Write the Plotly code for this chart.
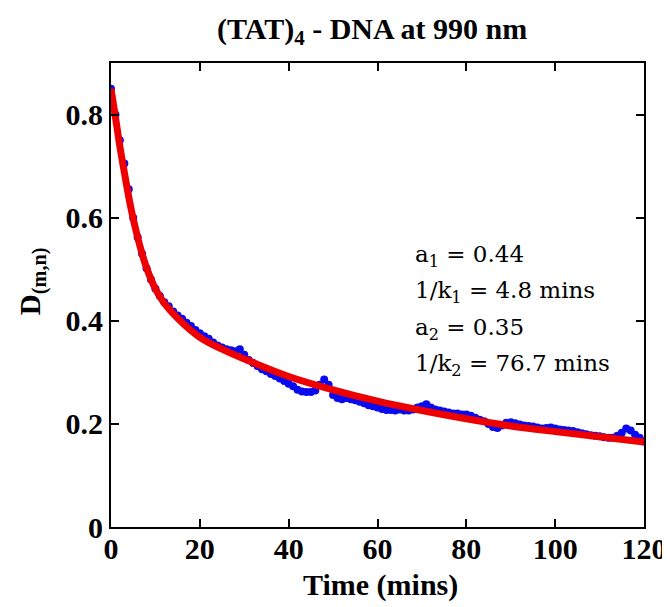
import plotly.graph_objects as go

# Measured data (blue points), time in minutes
time_data = list(range(0, 121))
d_data = [
    0.850, 0.800, 0.750, 0.705, 0.655, 0.600, 0.562, 0.530, 0.502, 0.480,
    0.462, 0.448, 0.436, 0.428, 0.418, 0.410, 0.404, 0.396, 0.390, 0.382,
    0.376, 0.370, 0.365, 0.358, 0.352, 0.348, 0.345, 0.343, 0.341, 0.345,
    0.334, 0.324, 0.318, 0.312, 0.306, 0.302, 0.297, 0.293, 0.288, 0.283,
    0.278, 0.273, 0.266, 0.263, 0.262, 0.262, 0.265, 0.276, 0.286, 0.276,
    0.256, 0.250, 0.248, 0.250, 0.248, 0.246, 0.243, 0.240, 0.236, 0.234,
    0.232, 0.229, 0.227, 0.227, 0.226, 0.228, 0.226, 0.226, 0.228, 0.232,
    0.234, 0.238, 0.232, 0.228, 0.226, 0.224, 0.222, 0.220, 0.220, 0.218,
    0.218, 0.216, 0.212, 0.208, 0.205, 0.200, 0.194, 0.192, 0.197, 0.202,
    0.203, 0.201, 0.199, 0.197, 0.196, 0.195, 0.193, 0.191, 0.192, 0.193,
    0.191, 0.189, 0.188, 0.187, 0.186, 0.184, 0.182, 0.180, 0.178, 0.177,
    0.176, 0.174, 0.173, 0.173, 0.177, 0.183, 0.191, 0.187, 0.179, 0.173,
    0.166,
]

# Fitted curve (red line)
time_fit = [0, 1, 2, 3, 4, 5, 6, 7, 8, 10, 12, 15, 20, 25, 30, 40, 50, 60, 70, 80, 90, 100, 110, 120]
d_fit = [0.850, 0.795, 0.738, 0.688, 0.640, 0.598, 0.562, 0.530, 0.503, 0.462, 0.434,
         0.405, 0.368, 0.345, 0.326, 0.292, 0.266, 0.244, 0.226, 0.210, 0.196, 0.185,
         0.175, 0.165]

x_ticks = [0, 20, 40, 60, 80, 100, 120]
y_ticks = [0, 0.2, 0.4, 0.6, 0.8]
y_tick_labels = ["0", "0.2", "0.4", "0.6", "0.8"]

param_lines = [
    "a<sub>1</sub> = 0.44",
    "1/k<sub>1</sub> = 4.8 mins",
    "a<sub>2</sub> = 0.35",
    "1/k<sub>2</sub> = 76.7 mins",
]
param_y = [0.525, 0.455, 0.385, 0.314]

FONT = "Liberation Serif, Times New Roman, serif"
FONT2 = "DejaVu Serif, serif"

fig = go.Figure()
fig.add_trace(go.Scatter(
    x=time_data, y=d_data, mode="markers",
    marker=dict(color="#0a0af0", size=8, symbol="circle"),
    showlegend=False,
))
fig.add_trace(go.Scatter(
    x=time_fit, y=d_fit, mode="lines", line_shape="spline",
    line=dict(color="#ee0000", width=7),
    showlegend=False,
))

for txt, yy in zip(param_lines, param_y):
    fig.add_annotation(x=68.0, y=yy, xref="x", yref="y", text=txt,
                       showarrow=False, xanchor="left", yanchor="middle",
                       font=dict(family=FONT2, size=23, color="black"))

# axis titles and chart title as positioned annotations
fig.add_annotation(x=-0.148, y=0.53, xref="paper", yref="paper",
                   text="<b>D<sub>(m,n)</sub></b>", textangle=-90, showarrow=False,
                   xanchor="center", yanchor="middle",
                   font=dict(family=FONT, size=29, color="black"))
fig.add_annotation(x=0.505, y=-0.125, xref="paper", yref="paper",
                   text="<b>Time (mins)</b>", showarrow=False,
                   xanchor="center", yanchor="middle",
                   font=dict(family=FONT, size=30, color="black"))
fig.add_annotation(x=0.49, y=1.07, xref="paper", yref="paper",
                   text="<b>(TAT)<sub>4</sub> - DNA at 990 nm</b>", showarrow=False,
                   xanchor="center", yanchor="middle", borderpad=0,
                   font=dict(family=FONT, size=30, color="black"))

axis_common = dict(
    showgrid=False, zeroline=False, showline=True, linecolor="black", linewidth=2,
    mirror="ticks", ticks="inside", ticklen=8, tickcolor="black", tickwidth=1.5,
    automargin=False,
    tickfont=dict(family=FONT, size=30, color="black", weight="bold"),
)

# page body has an 8px default margin; figure is sized to fit the 670x607 window
fig.update_layout(
    width=662, height=599,
    margin=dict(l=103, r=26, t=55, b=80),
    paper_bgcolor="white", plot_bgcolor="white",
    xaxis=dict(range=[0, 120], tickvals=x_ticks, ticktext=[str(v) for v in x_ticks],
               ticklabelstandoff=-6, **axis_common),
    yaxis=dict(range=[0, 0.9], tickvals=y_ticks, ticktext=y_tick_labels,
               **axis_common),
)

fig.write_html("out.html")
